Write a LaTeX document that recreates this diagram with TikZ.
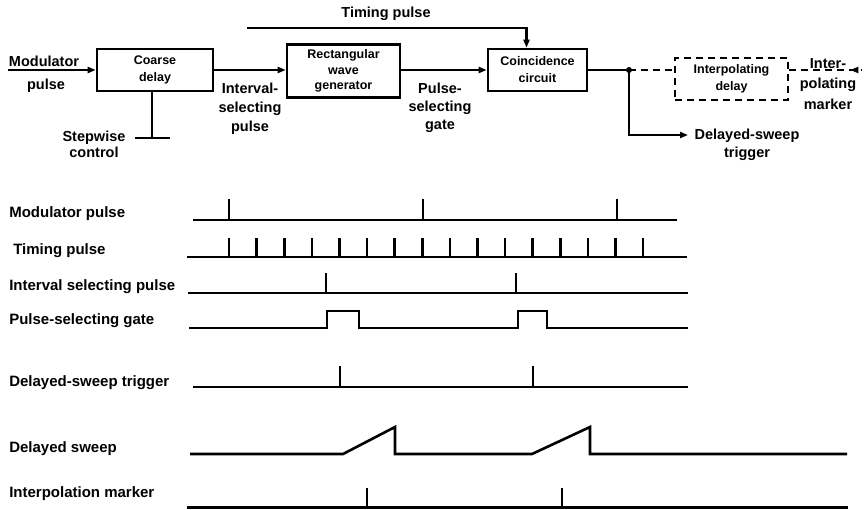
\documentclass[tikz,border=0pt]{standalone}
\usepackage{fontspec}
\setmainfont{Liberation Sans}
\usetikzlibrary{arrows.meta,decorations.markings,calc}
\begin{document}
\begin{tikzpicture}[x=1pt,y=-1pt,
  line width=2.6pt,
  lbl/.style={font=\bfseries\fontsize{14.5}{18}\selectfont, align=center, inner sep=0pt},
  tlbl/.style={font=\bfseries\fontsize{15}{18}\selectfont, anchor=west, inner sep=0pt},
  blk/.style={draw, line width=2.6pt, font=\bfseries\fontsize{12.5}{17}\selectfont, align=center, inner sep=0pt},
  dblk/.style={blk, dash pattern=on 7pt off 5pt},
  arr/.style={-{Triangle[length=8pt,width=6pt]}},
  dline/.style={dash pattern=on 7pt off 5pt},
  sig/.style={line width=2.6pt, line join=miter},
]
\useasboundingbox (0,0) rectangle (865,510);

% ---------- block diagram ----------
\node[blk, minimum width=116pt, minimum height=42pt] (cd) at (155,70) {Coarse\\delay};
\node[blk, minimum width=113pt, minimum height=53pt, font=\bfseries\fontsize{12.5}{15.5}\selectfont] (rw) at (343.5,71) {Rectangular\\wave\\generator};
\node[blk, minimum width=99pt, minimum height=42pt] (cc) at (537.5,70) {Coincidence\\circuit};
\node[dblk, minimum width=113pt, minimum height=42pt] (ipd) at (731.5,79) {Interpolating\\delay};

\coordinate (min) at (8,70);
\draw[arr] (min) -- (cd.west);
\draw[arr] (cd.east) -- (cd.east -| rw.west);
\draw[arr] (cc.west -| rw.east) -- (cc.west);

\coordinate (tp) at (247,28);
\coordinate (tpin) at ($(cc.north)+(-11,0)$);
\draw[arr] (tp) -| (tpin);

\coordinate (sw) at (152,138);
\coordinate (swl) at (135,138);
\coordinate (swr) at (170,138);
\draw (cd.south -| sw) -- (sw);
\draw (swl) -- (swr);

\coordinate (dot) at (629,70);
\draw (cc.east) -- (dot);
\fill (dot) circle (3pt);
\draw[dline] (dot) -- (dot -| ipd.west);
\coordinate (dst) at (688,135);
\draw[arr] (dot) |- (dst);

\coordinate (mk) at (862,70);
\draw[dline, postaction={decorate}, decoration={markings, mark=at position 0.84 with {\arrowreversed{Triangle[length=8pt,width=6pt]}}}] (ipd.east |- dot) -- (mk);

\node[lbl] (lmod1) at (44,61) {Modulator};
\node[lbl] (lmod2) at (46,86) {pulse};
\node[lbl, font=\bfseries\fontsize{14.5}{16}\selectfont] (lsw) at (94,144) {Stepwise\\control};
\node[lbl, font=\bfseries\fontsize{14.5}{19}\selectfont] (lisp) at (250,109) {Interval-\\selecting\\pulse};
\node[lbl, font=\bfseries\fontsize{14.5}{18}\selectfont] (lpsg) at (440,108) {Pulse-\\selecting\\gate};
\node[lbl] (ltp) at (386,14) {Timing pulse};
\node[lbl, font=\bfseries\fontsize{14.5}{18}\selectfont] (ldst) at (747,145) {Delayed-sweep\\trigger};
\node[lbl, font=\bfseries\fontsize{14.5}{20.5}\selectfont] (lim) at (828,84) {Inter-\\polating\\marker};

% ---------- timing diagram ----------
\node[tlbl] (t1) at (8,214) {Modulator pulse};
\node[tlbl] (t2) at (12,251) {Timing pulse};
\node[tlbl] (t3) at (8,287) {Interval selecting pulse};
\node[tlbl] (t4) at (8,321) {Pulse-selecting gate};
\node[tlbl] (t5) at (8,383) {Delayed-sweep trigger};
\node[tlbl] (t6) at (8,449) {Delayed sweep};
\node[tlbl] (t7) at (8,494) {Interpolation marker};

% modulator pulse
\draw[sig] (193,220) -- (677,220);
\foreach \x in {229,423,617} \draw[sig] (\x,220) -- (\x,199);
% timing pulse
\draw[sig] (187,257) -- (687,257);
\foreach \i in {0,...,15} \draw[sig] (229+\i*27.6,257) -- (229+\i*27.6,238);
% interval selecting pulse
\draw[sig] (188,293) -- (688,293);
\foreach \x in {326,516} \draw[sig] (\x,293) -- (\x,273);
% pulse-selecting gate
\draw[sig] (189,328) -- (327,328) -- (327,311) -- (359,311) -- (359,328) -- (518,328) -- (518,311) -- (547,311) -- (547,328) -- (688,328);
% delayed-sweep trigger
\draw[sig] (193,387) -- (688,387);
\foreach \x in {340,533} \draw[sig] (\x,387) -- (\x,366);
% delayed sweep
\draw[sig] (190,454) -- (343,454) -- (395,427) -- (395,454) -- (532,454) -- (590,427) -- (590,454) -- (847,454);
% interpolation marker
\draw[sig] (187,507.5) -- (848,507.5);
\foreach \x in {367,562} \draw[sig] (\x,507.5) -- (\x,488);
\end{tikzpicture}
\end{document}
